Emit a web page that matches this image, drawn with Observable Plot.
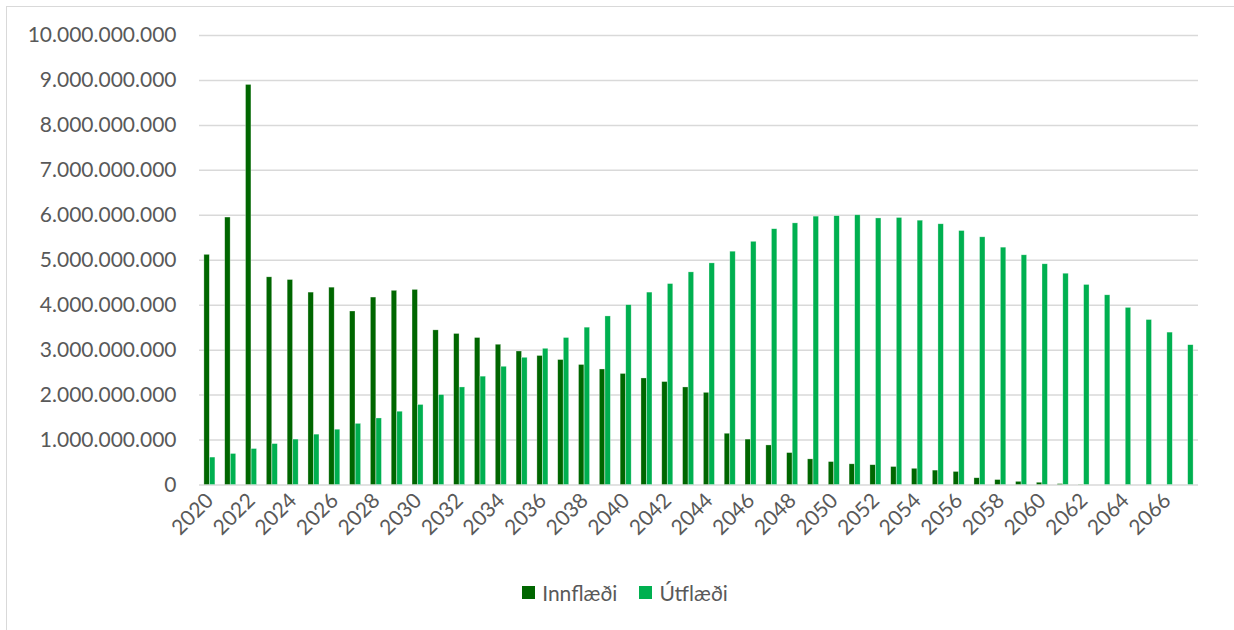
<!DOCTYPE html>
<html>
<head>
<meta charset="utf-8">
<script src="https://cdn.jsdelivr.net/npm/d3@7"></script>
<script src="https://cdn.jsdelivr.net/npm/@observablehq/plot@0.6"></script>
<style>
  html, body { margin: 0; padding: 0; background: #fff; overflow: hidden; width: 1234px; height: 630px; }
  #frame { position: absolute; left: 6px; top: 6px; width: 1400px; height: 800px; border: 1.5px solid #d9d9d9; box-sizing: border-box; }
  #chart { position: absolute; left: 0; top: 0; }
  #legend { position: absolute; left: 0; top: 580px; width: 1250px; display: flex; justify-content: center; gap: 22px;
            font-family: Lato, sans-serif; font-size: 21px; color: #595959; }
  .item { display: flex; align-items: center; gap: 7px; }
  .sw { width: 13px; height: 13px; display: inline-block; }
</style>
</head>
<body>
<div id="frame"></div>
<div id="chart"></div>
<div id="legend"></div>
<script>
const years = d3.range(2020, 2068);
const innflaedi = [5.12, 5.95, 8.90, 4.62, 4.56, 4.28, 4.39, 3.86, 4.17, 4.32, 4.34, 3.44,
  3.36, 3.27, 3.12, 2.97, 2.87, 2.78, 2.67, 2.57, 2.47, 2.37, 2.29, 2.17,
  2.05, 1.14, 1.01, 0.88, 0.71, 0.57, 0.51, 0.46, 0.44, 0.40, 0.36, 0.32,
  0.29, 0.15, 0.11, 0.07, 0.05, 0.02, 0.005, 0, 0, 0, 0, 0];
const utflaedi = [0.61, 0.69, 0.80, 0.91, 1.01, 1.12, 1.23, 1.36, 1.48, 1.63, 1.78, 2.00,
  2.17, 2.41, 2.63, 2.83, 3.03, 3.27, 3.50, 3.75, 4.00, 4.28, 4.47, 4.73,
  4.93, 5.19, 5.41, 5.69, 5.82, 5.97, 5.98, 6.00, 5.93, 5.94, 5.88, 5.80,
  5.65, 5.51, 5.28, 5.11, 4.91, 4.70, 4.45, 4.22, 3.94, 3.67, 3.39, 3.11];
const seriesNames = ["Innflæði", "Útflæði"];
const seriesColors = ["#006600", "#00b050"];
const yTicks = d3.range(0, 11).map(d => d * 1e9);
const xTickYears = years.filter(y => y % 2 === 0);

const rows = years.flatMap((y, i) => [
  {year: y, series: seriesNames[0], value: innflaedi[i] * 1e9},
  {year: y, series: seriesNames[1], value: utflaedi[i] * 1e9}
]);

const fmt = d3.formatLocale({decimal: ",", thousands: ".", grouping: [3], currency: ["", ""]}).format(",d");

const barInset = 7.7;
const barShift = 2.8;

const chart = Plot.plot({
  width: 1234,
  height: 560,
  marginLeft: 199,
  marginRight: 36,
  marginTop: 35,
  marginBottom: 75.5,
  style: {fontFamily: "Lato, sans-serif", fontSize: "21px", color: "#595959", background: "transparent"},
  x: {type: "band", domain: years, padding: 0, label: null},
  y: {domain: [0, 1e10], label: null},
  color: {domain: seriesNames, range: seriesColors},
  marks: [
    Plot.ruleY(yTicks, {stroke: "#d9d9d9", strokeWidth: 1.5}),
    Plot.barY(rows.filter(d => d.series === seriesNames[0]), {x: "year", y: "value", fill: "series",
      insetLeft: barInset, insetRight: barInset, dx: -barShift, stroke: "#ffffff", strokeOpacity: 0.5, strokeWidth: 0.6}),
    Plot.barY(rows.filter(d => d.series === seriesNames[1]), {x: "year", y: "value", fill: "series",
      insetLeft: barInset, insetRight: barInset, dx: barShift, stroke: "#ffffff", strokeOpacity: 0.5, strokeWidth: 0.6}),
    Plot.axisY({ticks: yTicks, tickFormat: fmt, tickSize: 0, tickPadding: 23, fill: "#595959", fontSize: 21, label: null}),
    Plot.axisX({ticks: xTickYears, tickFormat: d => String(d), tickSize: 0, tickPadding: 12, tickRotate: -45, fill: "#595959", fontSize: 21, label: null})
  ]
});
document.getElementById("chart").appendChild(chart);

const legend = document.getElementById("legend");
seriesNames.forEach((n, i) => {
  const it = document.createElement("div");
  it.className = "item";
  it.innerHTML = `<span class="sw" style="background:${seriesColors[i]}"></span><span>${n}</span>`;
  legend.appendChild(it);
});
</script>
</body>
</html>
